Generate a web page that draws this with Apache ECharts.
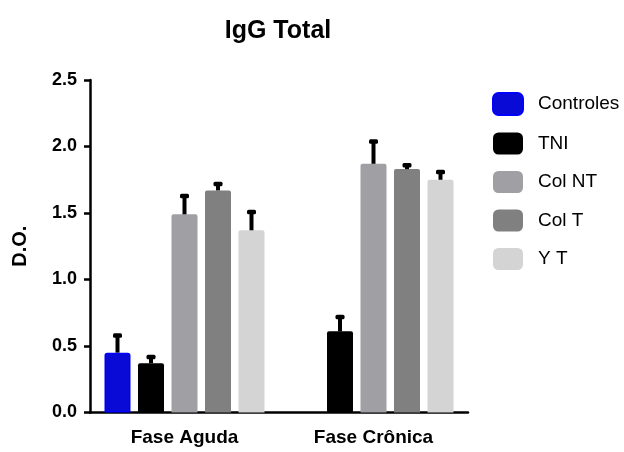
<!DOCTYPE html>
<html>
<head>
<meta charset="utf-8">
<script src="https://cdn.jsdelivr.net/npm/echarts@6/dist/echarts.min.js"></script>
<style>
html,body{margin:0;padding:0;background:#fff;}
#chart{width:624px;height:452px;}
</style>
</head>
<body>
<div id="chart"></div>
<script>
const categories = ['Fase Aguda', 'Fase Crônica'];
const seriesNames = ['Controles', 'TNI', 'Col NT', 'Col T', 'Y T'];
const controles = [0.45, null];
const tni = [0.37, 0.61];
const colNT = [1.49, 1.87];
const colT = [1.67, 1.83];
const yT = [1.37, 1.75];
const controlesErr = [0.13, null];
const tniErr = [0.05, 0.11];
const colNTErr = [0.14, 0.17];
const colTErr = [0.05, 0.03];
const yTErr = [0.14, 0.06];
const yTicks = [0, 0.5, 1.0, 1.5, 2.0, 2.5];

const values = [controles, tni, colNT, colT, yT];
const errors = [controlesErr, tniErr, colNTErr, colTErr, yTErr];
const colors = ['#0a0ad6', '#000000', '#a0a0a4', '#808080', '#d4d4d4'];
const borders = ['#0000ff', '#000000', '#a0a0a4', '#808080', '#d4d4d4'];

const FONT = '"Liberation Sans Narrow", "Arial Narrow", "Liberation Sans", Arial, sans-serif';
const BAR_W = 26, BAR_GAP = 7.5;

const chart = echarts.init(document.getElementById('chart'), null, {renderer: 'canvas'});

const barSeries = seriesNames.map((name, i) => ({
  name: name,
  type: 'bar',
  data: values[i],
  barWidth: BAR_W,
  barGap: (BAR_GAP / BAR_W * 100) + '%',
  itemStyle: {color: colors[i], borderColor: borders[i], borderWidth: i === 0 ? 1.5 : 0, borderRadius: [2, 2, 0, 0]},
  emphasis: {disabled: true},
  z: 2
}));

const errSeries = seriesNames.map((name, i) => ({
  type: 'custom',
  name: name + ' err',
  z: 3,
  silent: true,
  data: values[i].map((v, c) => v == null ? null : [c, v, errors[i][c]]).filter(d => d),
  renderItem: function (params, api) {
    const c = api.value(0), v = api.value(1), e = api.value(2);
    const base = api.coord([c, v]);
    const top = api.coord([c, v + e]);
    const x = base[0] + (i - 2) * (BAR_W + BAR_GAP);
    return {
      type: 'group',
      children: [
        {type: 'rect', shape: {x: x - 2, y: top[1], width: 4, height: base[1] - top[1]}, style: {fill: '#000'}},
        {type: 'rect', shape: {x: x - 4.5, y: top[1] - 2, width: 9, height: 4.5, r: 1.5}, style: {fill: '#000'}}
      ]
    };
  }
}));

chart.setOption({
  animation: false,
  backgroundColor: '#fff',
  title: {
    text: 'IgG Total',
    left: 273,
    textAlign: 'center',
    top: 14,
    textStyle: {fontFamily: FONT, fontWeight: 'bold', fontSize: 25, color: '#000'}
  },
  legend: {
    orient: 'vertical',
    left: 487,
    top: 87,
    itemWidth: 30,
    itemHeight: 22,
    itemGap: 16.5,
    icon: 'roundRect',
    data: seriesNames,
    textStyle: {fontFamily: FONT, fontSize: 19, color: '#000', lineHeight: 22, padding: [0, 0, 0, 10]}
  },
  grid: {left: 90, right: 156, top: 80, bottom: 39.5, containLabel: false},
  xAxis: {
    type: 'category',
    data: categories,
    axisLine: {lineStyle: {color: '#000', width: 2.5}},
    axisTick: {alignWithLabel: true, length: 6, lineStyle: {color: '#000', width: 2.5}},
    axisLabel: {fontFamily: FONT, fontWeight: 'bold', fontSize: 19, color: '#000', margin: 16}
  },
  yAxis: {
    type: 'value',
    min: yTicks[0],
    max: yTicks[yTicks.length - 1],
    interval: 0.5,
    name: 'D.O.',
    nameLocation: 'middle',
    nameRotate: 90,
    nameGap: 60,
    nameTextStyle: {fontFamily: FONT, fontWeight: 'bold', fontSize: 20, color: '#000'},
    axisLine: {show: true, lineStyle: {color: '#000', width: 2.5}},
    axisTick: {show: true, length: 6, lineStyle: {color: '#000', width: 2.5}},
    splitLine: {show: false},
    axisLabel: {fontFamily: FONT, fontWeight: 'bold', fontSize: 18, color: '#000', margin: 13,
      formatter: v => v.toFixed(1)}
  },
  series: barSeries.concat(errSeries)
});
</script>
</body>
</html>
